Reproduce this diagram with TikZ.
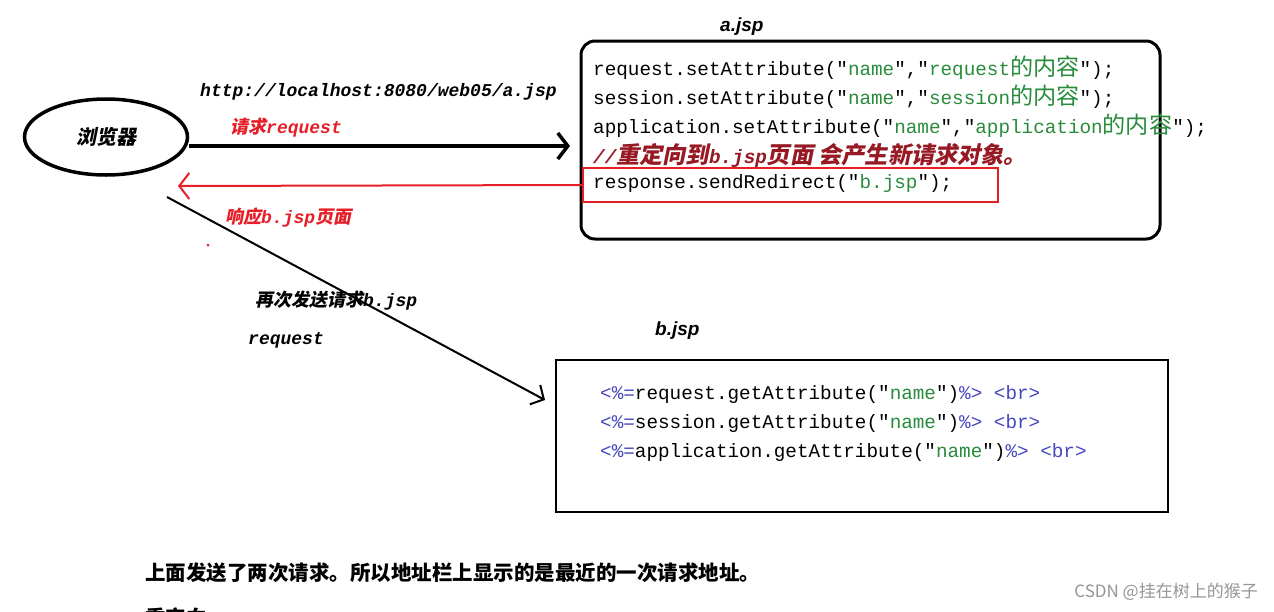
\documentclass[tikz,border=0pt]{standalone}
\usepackage{fontspec}
\setmainfont{Liberation Serif}
\newfontfamily\zhfont{Noto Sans CJK SC}
\newfontfamily\zhslant{Noto Sans CJK SC}[FakeSlant=0.2]
\newfontfamily\zhcode{Noto Sans CJK SC}[Scale=1.2]
\newfontfamily\zhcodeslant{Noto Sans CJK SC}[Scale=1.2,FakeSlant=0.2]
\newfontfamily\codefont{Liberation Mono}
\newfontfamily\headfont{Liberation Sans}
\usetikzlibrary{positioning,arrows.meta,shapes.geometric}
\definecolor{strgreen}{RGB}{40,140,60}
\definecolor{cmtred}{RGB}{150,25,35}
\definecolor{tagblue}{RGB}{70,70,190}
\definecolor{arrred}{RGB}{230,30,40}
\definecolor{markgray}{RGB}{150,150,150}
\newcommand{\zh}[1]{{\zhslant #1}}
\newcommand{\zc}[1]{{\zhcode #1}}
\newcommand{\zcs}[1]{{\zhcodeslant #1}}
\newcommand{\str}[1]{\textcolor{strgreen}{#1}}
\newcommand{\tg}[1]{\textcolor{tagblue}{#1}}

\begin{document}
\begin{tikzpicture}[x=1pt,y=-1pt,
  code/.style={anchor=west,inner sep=0pt,font=\fontsize{19.3}{22}\selectfont\codefont},
  lab/.style={anchor=west,inner sep=0pt,font=\fontsize{18}{20}\selectfont\codefont\bfseries\itshape},
  head/.style={anchor=west,inner sep=0pt,font=\fontsize{19}{21}\selectfont\headfont\bfseries\itshape},
  jspbox/.style={draw,line width=3pt,rounded corners=14pt,minimum width=579pt,minimum height=198pt},
  viewbox/.style={draw,line width=2pt,minimum width=612pt,minimum height=152pt},
  redframe/.style={draw=arrred,line width=2pt,minimum width=415pt,minimum height=34pt},
  fwd/.style={line width=3.5pt,-{Straight Barb[length=10pt,width=26pt]}},
  back/.style={arrred,line width=2pt,-{Straight Barb[length=10pt,width=26pt]}},
  again/.style={line width=2pt,-{Straight Barb[length=10pt,width=22pt]}}]
\fill[white] (0,0) rectangle (1274,611);
\useasboundingbox (0,0) rectangle (1274,611);
% browser
\node[ellipse,draw,line width=3.5pt,minimum width=163pt,minimum height=76pt,
  font=\fontsize{20}{22}\selectfont\zhslant\bfseries] (browser) at (106,137) {浏览器};
% a.jsp
\node[jspbox] (abox) at (870.5,140) {};
\node[head] (atitle) at (720,27) {a.jsp};
\node[redframe] (redbox) at (790.5,185) {};
\node[code] (la1) at (593,68) {request.setAttribute("\str{name}","\str{request\zc{的内容}}");};
\node[code] (la2) at (593,97) {session.setAttribute("\str{name}","\str{session\zc{的内容}}");};
\node[code] (la3) at (593,126) {application.setAttribute("\str{name}","\str{application\zc{的内容}}");};
\node[code,text=cmtred,font=\fontsize{19.3}{22}\selectfont\codefont\bfseries\itshape] (la4) at (593,155)
  {//\zcs{重定向到}b.jsp\zcs{页面 会产生新请求对象。}};
\node[code] (la5) at (593,184) {response.sendRedirect("\str{b.jsp}");};
% b.jsp
\node[viewbox] (bbox) at (862,436) {};
\node[head] (btitle) at (655,331) {b.jsp};
\node[code] (lb1) at (600,395) {\tg{<\%=}request.getAttribute("\str{name}")\tg{\%>} \tg{<br>}};
\node[code] (lb2) at (600,424) {\tg{<\%=}session.getAttribute("\str{name}")\tg{\%>} \tg{<br>}};
\node[code] (lb3) at (600,453) {\tg{<\%=}application.getAttribute("\str{name}")\tg{\%>} \tg{<br>}};
% labels
\node[lab] (url) at (200,92) {http://localhost:8080/web05/a.jsp};
\node[lab,text=arrred] (req) at (230,128) {\zh{请求}request};
\node[lab,text=arrred] (resp) at (225,218) {\zh{响应}b.jsp\zh{页面}};
\node[lab] (send) at (255,301) {\zh{再次发送请求}b.jsp};
\node[lab] (req2) at (248,340) {request};
\node[circle,fill=arrred,inner sep=0pt,minimum size=3pt] (dot) at (208,245) {};
% connectors
\coordinate (reqend) at (570,146);
\coordinate (respend) at (178,186);
\coordinate (againstart) at (167,197);
\coordinate (againend) at (545,400);
\draw[fwd] (browser.east |- reqend) -- (reqend);
\draw[back] (redbox.west) -- (respend);
\draw[again] (againstart) -- (againend);
% notes
\node[anchor=west,inner sep=0pt,font=\fontsize{20.5}{22}\selectfont\zhfont\bfseries] (summary) at (145,573)
  {上面发送了两次请求。所以地址栏上显示的是最近的一次请求地址。};
\node[anchor=west,inner sep=0pt,font=\fontsize{20.5}{22}\selectfont\zhfont\bfseries] (next) at (145,618) {重定向};
\node[anchor=east,inner sep=0pt,text=markgray,font=\fontsize{17}{19}\selectfont\zhfont] (mark) at (1258,592)
  {CSDN @挂在树上的猴子};
\end{tikzpicture}
\end{document}
